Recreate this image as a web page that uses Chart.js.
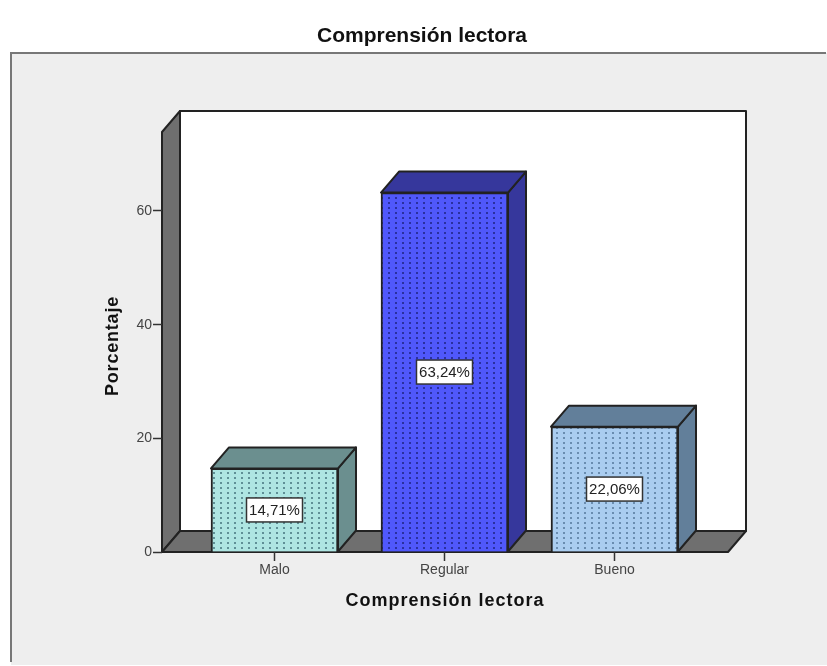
<!DOCTYPE html>
<html>
<head>
<meta charset="utf-8">
<title>Comprensión lectora</title>
<style>
  html, body { margin: 0; padding: 0; background: #fff; overflow: hidden; }
  canvas { display: block; filter: blur(0.45px); }
</style>
<script src="https://cdn.jsdelivr.net/npm/chart.js@4/dist/chart.umd.min.js"></script>
</head>
<body>
<canvas id="barChart" width="827" height="666"></canvas>
<script>
const CATEGORIES = ['Malo', 'Regular', 'Bueno'];
const PERCENTAGES = [14.71, 63.24, 22.06];
const Y_TICKS = [0, 20, 40, 60];

const FRONT_COLORS = ['#aee5e2', '#5058fb', '#aacdf0'];
const SHADE_COLORS = ['#6b8f8f', '#36379c', '#627f9a'];
const DOT_COLORS = ['#5f8f96', '#2a30a0', '#6a8db0'];

const FONT = '"Liberation Sans", Arial, sans-serif';
const LINE_DARK = '#222222';
const WALL_GREY = '#6f6f6f';
const DEPTH_X = 18;
const DEPTH_Y = 21;

// dotted fill used on the bar fronts
function dotPattern(sBack, sDot) {
    const oTile = document.createElement('canvas');
    oTile.width = 7;
    oTile.height = 5;
    const oCtx = oTile.getContext('2d');
    oCtx.fillStyle = sBack;
    oCtx.fillRect(0, 0, 7, 5);
    oCtx.fillStyle = sDot;
    oCtx.fillRect(3, 2, 2, 2);
    return oCtx.createPattern(oTile, 'repeat');
}

function polygon(oCtx, aPoints, sFill) {
    oCtx.beginPath();
    aPoints.forEach(function (p, i) {
        i ? oCtx.lineTo(p[0], p[1]) : oCtx.moveTo(p[0], p[1]);
    });
    oCtx.closePath();
    oCtx.fillStyle = sFill;
    oCtx.fill();
    oCtx.stroke();
}

// the reference titles are set wider than the font, so wrap their draw calls
function spaceOut(oBox, sMethod, sSpacing, iShiftY) {
    const fDraw = oBox[sMethod];
    oBox[sMethod] = function () {
        const oCtx = oBox.ctx;
        oCtx.save();
        oCtx.letterSpacing = sSpacing;
        oCtx.translate(0, iShiftY);
        fDraw.apply(oBox, arguments);
        oCtx.restore();
    };
}

const spacingPlugin = {
    id: 'spacing',
    afterInit: function (chart) {
        chart.$spaced = false;
    },
    beforeDraw: function (chart) {
        if (chart.$spaced) {
            return;
        }
        chart.$spaced = true;
        spaceOut(chart.scales.x, 'drawTitle', '1px', 0);
        spaceOut(chart.scales.y, 'drawTitle', '0.8px', 4);
    }
};

// panel, back wall, left wall and floor
const wallsPlugin = {
    id: 'walls',
    beforeDraw: function (chart) {
        const oCtx = chart.ctx;
        const a = chart.chartArea;
        oCtx.save();
        oCtx.fillStyle = '#eeeeee';
        oCtx.fillRect(11, 53, 816, 612);
        oCtx.strokeStyle = '#777777';
        oCtx.lineWidth = 2;
        oCtx.beginPath();
        oCtx.moveTo(11, 662);
        oCtx.lineTo(11, 53);
        oCtx.lineTo(826, 53);
        oCtx.stroke();

        oCtx.strokeStyle = LINE_DARK;
        oCtx.lineJoin = 'round';
        polygon(oCtx, [
            [a.left + DEPTH_X, a.top - DEPTH_Y],
            [a.right + DEPTH_X, a.top - DEPTH_Y],
            [a.right + DEPTH_X, a.bottom - DEPTH_Y],
            [a.left + DEPTH_X, a.bottom - DEPTH_Y]
        ], '#ffffff');
        polygon(oCtx, [
            [a.left, a.top],
            [a.left + DEPTH_X, a.top - DEPTH_Y],
            [a.left + DEPTH_X, a.bottom - DEPTH_Y],
            [a.left, a.bottom]
        ], WALL_GREY);
        polygon(oCtx, [
            [a.left, a.bottom],
            [a.left + DEPTH_X, a.bottom - DEPTH_Y],
            [a.right + DEPTH_X, a.bottom - DEPTH_Y],
            [a.right, a.bottom]
        ], WALL_GREY);
        oCtx.restore();
    }
};

// top and side faces of the bars, then the value boxes
const depthPlugin = {
    id: 'depth',
    beforeDatasetsDraw: function (chart) {
        const oCtx = chart.ctx;
        oCtx.save();
        oCtx.strokeStyle = LINE_DARK;
        oCtx.lineWidth = 2;
        oCtx.lineJoin = 'round';
        chart.getDatasetMeta(0).data.forEach(function (bar, i) {
            const iLeft = bar.x - bar.width / 2;
            const iRight = bar.x + bar.width / 2;
            polygon(oCtx, [
                [iRight, bar.y],
                [iRight + DEPTH_X, bar.y - DEPTH_Y],
                [iRight + DEPTH_X, bar.base - DEPTH_Y],
                [iRight, bar.base]
            ], SHADE_COLORS[i]);
            polygon(oCtx, [
                [iLeft, bar.y],
                [iLeft + DEPTH_X, bar.y - DEPTH_Y],
                [iRight + DEPTH_X, bar.y - DEPTH_Y],
                [iRight, bar.y]
            ], SHADE_COLORS[i]);
        });
        oCtx.restore();
    },
    afterDatasetsDraw: function (chart) {
        const oCtx = chart.ctx;
        oCtx.save();
        oCtx.font = '15px ' + FONT;
        oCtx.textAlign = 'center';
        oCtx.textBaseline = 'middle';
        chart.getDatasetMeta(0).data.forEach(function (bar, i) {
            const sText = PERCENTAGES[i].toFixed(2).replace('.', ',') + '%';
            const iMid = (bar.y + bar.base) / 2;
            oCtx.fillStyle = '#ffffff';
            oCtx.strokeStyle = '#333333';
            oCtx.lineWidth = 1.5;
            oCtx.fillRect(bar.x - 28, iMid - 12, 56, 24);
            oCtx.strokeRect(bar.x - 28, iMid - 12, 56, 24);
            oCtx.fillStyle = '#222222';
            oCtx.fillText(sText, bar.x, iMid + 1);
        });
        oCtx.restore();
    }
};

new Chart(document.getElementById('barChart').getContext('2d'), {
    type: 'bar',
    data: {
        datasets: [{
            data: PERCENTAGES.map(function (v, i) { return { x: i, y: v }; }),
            backgroundColor: FRONT_COLORS.map(function (c, i) { return dotPattern(c, DOT_COLORS[i]); }),
            borderColor: LINE_DARK,
            borderWidth: 2,
            barThickness: 127
        }]
    },
    plugins: [spacingPlugin, wallsPlugin, depthPlugin],
    options: {
        responsive: false,
        animation: false,
        layout: { padding: { left: 116, right: 99, top: 0, bottom: 0 } },
        plugins: {
            legend: { display: false },
            tooltip: { enabled: false },
            title: {
                display: true,
                text: 'Comprensión lectora',
                color: '#111111',
                font: { family: FONT, size: 21, weight: 'bold', lineHeight: 1.2 },
                padding: { top: 24, bottom: 82.8 }
            }
        },
        scales: {
            x: {
                type: 'linear',
                offset: false,
                min: -0.6618,
                max: 2.6676,
                afterBuildTicks: function (scale) {
                    scale.ticks = CATEGORIES.map(function (c, i) { return { value: i }; });
                },
                afterFit: function (scale) { scale.height = 114; },
                grid: { drawOnChartArea: false, offset: false, tickLength: 9, tickColor: '#333333', tickWidth: 1.5 },
                border: { display: false },
                ticks: {
                    autoSkip: false,
                    maxRotation: 0,
                    padding: 1,
                    color: '#444444',
                    font: { family: FONT, size: 14 },
                    callback: function (value) { return CATEGORIES[value]; }
                },
                title: {
                    display: true,
                    text: 'Comprensión lectora',
                    color: '#111111',
                    font: { family: FONT, size: 18, weight: 'bold', lineHeight: 1.2 },
                    padding: { top: 0, bottom: 54.2 }
                }
            },
            y: {
                min: 0,
                max: 73.9,
                afterBuildTicks: function (scale) {
                    scale.ticks = Y_TICKS.map(function (v) { return { value: v }; });
                },
                afterFit: function (scale) { scale.width = 46; },
                grid: { drawOnChartArea: false, tickLength: 9, tickColor: '#333333', tickWidth: 1.5 },
                border: { display: false },
                ticks: {
                    padding: 1,
                    color: '#444444',
                    font: { family: FONT, size: 14 }
                },
                title: {
                    display: true,
                    text: 'Porcentaje',
                    color: '#111111',
                    font: { family: FONT, size: 18, weight: 'bold', lineHeight: 1.2 },
                    padding: { top: -13.8, bottom: 0 }
                }
            }
        }
    }
});
</script>
</body>
</html>
